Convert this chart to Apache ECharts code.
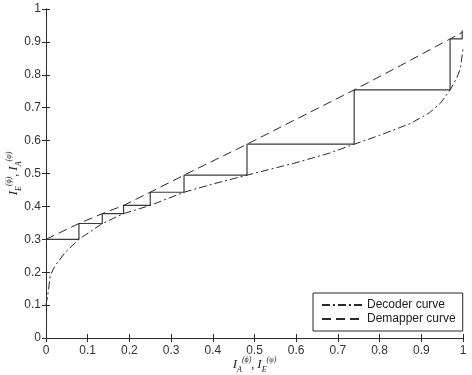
<!DOCTYPE html>
<html>
<head>
<meta charset="utf-8">
<script src="https://cdn.jsdelivr.net/npm/echarts@6/dist/echarts.min.js"></script>
<style>
  html, body { margin: 0; padding: 0; background: #fff; }
  #chart { width: 472px; height: 375px; }
</style>
</head>
<body>
<div id="chart"></div>
<script>
// decoder curve (dash-dot)
const decoderX = [0, 0.002, 0.006, 0.01, 0.022, 0.046, 0.079, 0.135, 0.186, 0.25, 0.331, 0.4, 0.482, 0.6, 0.68, 0.739, 0.8, 0.874, 0.92, 0.946, 0.969, 0.985, 0.994, 1];
const decoderY = [0.10, 0.115, 0.145, 0.19, 0.22, 0.26, 0.30, 0.348, 0.378, 0.403, 0.443, 0.468, 0.495, 0.533, 0.562, 0.589, 0.616, 0.652, 0.685, 0.714, 0.754, 0.79, 0.821, 0.88];

// demapper curve (dashed)
const demapperX = [0, 0.079, 0.135, 0.186, 0.25, 0.331, 0.4, 0.482, 0.6, 0.739, 0.85, 0.969, 1];
const demapperY = [0.30, 0.348, 0.378, 0.403, 0.443, 0.495, 0.538, 0.589, 0.665, 0.754, 0.828, 0.909, 0.93];

// decoding trajectory (staircase)
const trajX = [0, 0.079, 0.079, 0.135, 0.135, 0.186, 0.186, 0.25, 0.25, 0.331, 0.331, 0.482, 0.482, 0.739, 0.739, 0.969, 0.969, 0.998, 0.998];
const trajY = [0.30, 0.30, 0.348, 0.348, 0.378, 0.378, 0.403, 0.403, 0.443, 0.443, 0.495, 0.495, 0.589, 0.589, 0.754, 0.754, 0.909, 0.909, 0.935];

const zip = (xs, ys) => xs.map((x, i) => [x, ys[i]]);

const ink = '#2b2b2b';
const labelFont = { color: '#333', fontSize: 12, fontFamily: 'Liberation Sans, Arial, sans-serif' };

const nameRich = {
  i: { fontFamily: 'Liberation Serif, serif', fontStyle: 'italic', fontSize: 13, lineHeight: 18, color: '#222' },
  s: { fontFamily: 'Liberation Serif, serif', fontStyle: 'italic', fontSize: 8, verticalAlign: 'bottom', lineHeight: 18, color: '#222' },
  p: { fontFamily: 'Liberation Serif, serif', fontStyle: 'italic', fontSize: 8, verticalAlign: 'top', lineHeight: 18, color: '#222' },
  c: { fontFamily: 'Liberation Serif, serif', fontSize: 12, lineHeight: 18, color: '#222' }
};

const baseAxis = {
  type: 'value',
  min: 0,
  max: 1,
  interval: 0.1,
  axisLine: { show: true, lineStyle: { color: ink, width: 1 } },
  axisTick: { show: true, inside: true, length: 4, lineStyle: { color: ink } },
  splitLine: { show: false }
};

const chart = echarts.init(document.getElementById('chart'), null, { renderer: 'canvas' });

chart.setOption({
  animation: false,
  backgroundColor: '#fff',
  grid: { left: 46, right: 9, top: 9, bottom: 37, containLabel: false, outerBoundsMode: 'none' },
  legend: {
    orient: 'vertical',
    left: 313,
    top: 293,
    padding: [6, 7, 6, 8],
    itemGap: 2,
    itemWidth: 40,
    itemHeight: 12,
    borderColor: ink,
    borderWidth: 1,
    borderRadius: 0,
    backgroundColor: '#fff',
    itemStyle: { opacity: 0 },
    textStyle: { ...labelFont, color: '#222' },
    data: ['Decoder curve', 'Demapper curve']
  },
  xAxis: [
    {
      ...baseAxis,
      position: 'bottom',
      axisLabel: { ...labelFont, margin: 7, formatter: v => String(+v.toFixed(1)) },
      name: '{i|I}{s|A}{p|(ϕ)}{c|, }{i|I}{s|E}{p|(φ)}',
      nameLocation: 'middle',
      nameGap: 18,
      nameMoveOverlap: false,
      nameTextStyle: { rich: nameRich }
    },
    {
      ...baseAxis,
      position: 'top',
      axisLabel: { show: false }
    }
  ],
  yAxis: [
    {
      ...baseAxis,
      position: 'left',
      axisLabel: { ...labelFont, margin: 5, formatter: v => String(+v.toFixed(1)) },
      name: '{i|I}{s|E}{p|(ϕ)}{c|, }{i|I}{s|A}{p|(φ)}',
      nameLocation: 'middle',
      nameGap: 23,
      nameMoveOverlap: false,
      nameTextStyle: { rich: nameRich }
    },
    {
      ...baseAxis,
      position: 'right',
      axisLabel: { show: false }
    }
  ],
  series: [
    {
      name: 'Decoder curve',
      type: 'line',
      data: zip(decoderX, decoderY),
      symbol: 'none',
      smooth: false,
      z: 3,
      lineStyle: { color: ink, width: 1, type: [8, 3, 2, 3] },
      itemStyle: { color: ink }
    },
    {
      name: 'Demapper curve',
      type: 'line',
      data: zip(demapperX, demapperY),
      symbol: 'none',
      smooth: false,
      z: 3,
      lineStyle: { color: ink, width: 1, type: [9, 5] },
      itemStyle: { color: ink }
    },
    {
      name: 'Trajectory',
      type: 'line',
      data: zip(trajX, trajY),
      symbol: 'none',
      z: 2,
      lineStyle: { color: '#3a3a3a', width: 1.2, type: 'solid' },
      itemStyle: { color: '#3a3a3a' }
    }
  ]
});
</script>
</body>
</html>
